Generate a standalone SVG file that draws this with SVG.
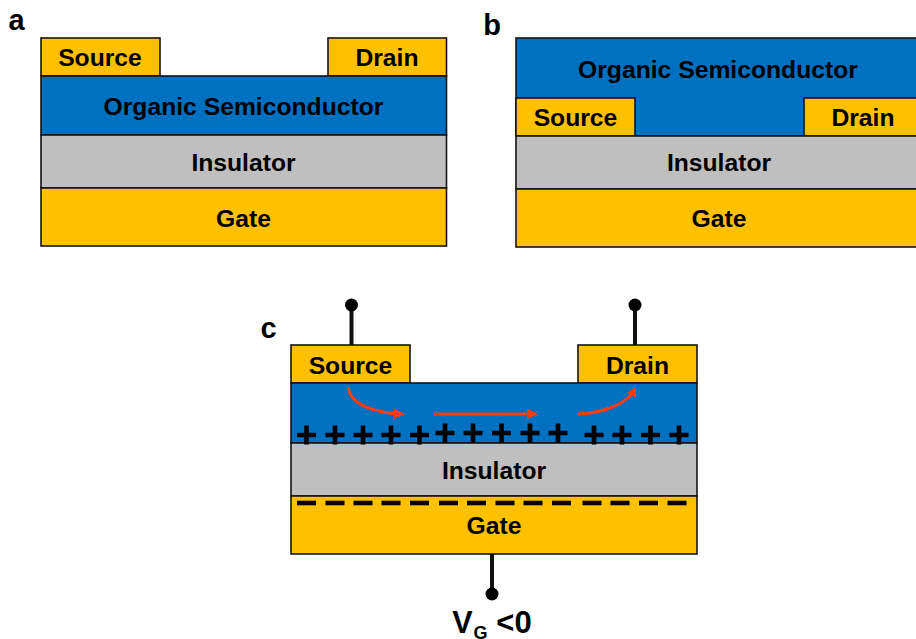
<svg xmlns="http://www.w3.org/2000/svg" width="916" height="639" viewBox="0 0 916 639">
<style>
text{font-family:"Liberation Sans",Arial,sans-serif;font-weight:bold;fill:#000;text-anchor:middle}
.t{font-size:24.7px}
.p{font-size:29px}
.box{stroke:#141414;stroke-width:1.6}
.gold{fill:#ffc000}.blue{fill:#0070c0}.grey{fill:#bfbfbf}
.wire{stroke:#111;stroke-width:4;fill:none}
.dot{fill:#000}
.red{stroke:#ff3c0a;stroke-width:3;fill:none}
.redh{fill:#ff3c0a}
.ch{stroke:#000;stroke-width:4.6;fill:none}
</style>
<defs>
<path id="plus" class="ch" d="M-9.500 0H9.500M0-9.500V9.500"/>
<path id="minus" class="ch" d="M-9.500 0H9.500"/>
</defs>
<text x="16.500" y="30" class="p">a</text>
<text x="492" y="35" class="p">b</text>
<text x="268.500" y="338" class="p">c</text>
<g id="device-a">
<g id="a-source"><rect class="box gold" x="41" y="38" width="119" height="38"/><text class="t" x="100" y="66">Source</text></g>
<g id="a-drain"><rect class="box gold" x="328" y="38" width="118.500" height="38"/><text class="t" x="387" y="66">Drain</text></g>
<g id="a-semiconductor"><rect class="box blue" x="41" y="76" width="405.500" height="59"/><text class="t" x="243.500" y="115">Organic Semiconductor</text></g>
<g id="a-insulator"><rect class="box grey" x="41" y="135" width="405.500" height="53"/><text class="t" x="243.500" y="171">Insulator</text></g>
<g id="a-gate"><rect class="box gold" x="41" y="188" width="405.500" height="58"/><text class="t" x="243.500" y="227">Gate</text></g>
</g>
<g id="device-b">
<g id="b-semiconductor"><rect class="box blue" x="516" y="38" width="401" height="98"/><text class="t" x="718" y="78">Organic Semiconductor</text></g>
<g id="b-source"><rect class="box gold" x="516" y="98" width="119" height="38"/><text class="t" x="575.500" y="126">Source</text></g>
<g id="b-drain"><rect class="box gold" x="804" y="98" width="113" height="38"/><text class="t" x="863" y="126">Drain</text></g>
<g id="b-insulator"><rect class="box grey" x="516" y="136" width="401" height="53"/><text class="t" x="719" y="171">Insulator</text></g>
<g id="b-gate"><rect class="box gold" x="516" y="189" width="401" height="58"/><text class="t" x="719" y="227">Gate</text></g>
</g>
<g id="device-c">
<g id="c-source"><rect class="box gold" x="291" y="345" width="119" height="38"/><text class="t" x="350.500" y="374">Source</text></g>
<g id="c-drain"><rect class="box gold" x="578" y="345" width="119" height="38"/><text class="t" x="637.500" y="374">Drain</text></g>
<g id="c-semiconductor"><rect class="box blue" x="291" y="383" width="406" height="60"/></g>
<g id="c-insulator"><rect class="box grey" x="291" y="443" width="406" height="53"/><text class="t" x="494" y="479">Insulator</text></g>
<g id="c-gate"><rect class="box gold" x="291" y="496" width="406" height="58"/><text class="t" x="494" y="534">Gate</text></g>
<g id="c-charges-plus">
<use href="#plus" x="306.500" y="435"/><use href="#plus" x="335" y="435"/><use href="#plus" x="363" y="435"/><use href="#plus" x="391" y="435"/><use href="#plus" x="419.500" y="435"/>
<use href="#plus" x="445" y="433"/><use href="#plus" x="473" y="433"/><use href="#plus" x="501.500" y="433"/><use href="#plus" x="530" y="433"/><use href="#plus" x="558" y="433"/>
<use href="#plus" x="594" y="435"/><use href="#plus" x="622" y="435"/><use href="#plus" x="650.500" y="435"/><use href="#plus" x="679" y="435"/>
</g>
<g id="c-charges-minus">
<use href="#minus" x="306.500" y="503"/><use href="#minus" x="335" y="503"/><use href="#minus" x="363" y="503"/><use href="#minus" x="391" y="503"/><use href="#minus" x="419.500" y="503"/><use href="#minus" x="448.500" y="503"/><use href="#minus" x="476.500" y="503"/><use href="#minus" x="505" y="503"/><use href="#minus" x="533" y="503"/><use href="#minus" x="561.500" y="503"/><use href="#minus" x="592" y="503"/><use href="#minus" x="620" y="503"/><use href="#minus" x="648.500" y="503"/><use href="#minus" x="677" y="503"/>
</g>
<text x="462.500" y="633" font-size="30.500">V</text>
<text x="480.500" y="638.500" font-size="18">G</text>
<text x="514" y="633" font-size="31">&lt;0</text>
</g>
<g id="connectors">
<path class="wire" d="M351.500 306V345"/><circle class="dot" cx="351.500" cy="305" r="6.500"/>
<path class="wire" d="M635 306V345"/><circle class="dot" cx="635" cy="305" r="6.500"/>
<path class="wire" d="M492 554V594"/><circle class="dot" cx="492" cy="594" r="6.500"/>
<path class="red" d="M348 387C350 404 370 411 396 414"/><path class="redh" d="M394 408.500L405 414L394 419Z"/>
<path class="red" d="M434 414H529"/><path class="redh" d="M527 408.500L538 414L527 419Z"/>
<path class="red" d="M578 414C603 413 622 405 632 394"/><path class="redh" d="M627 393L636 387L636 398Z"/>
</g>
</svg>
